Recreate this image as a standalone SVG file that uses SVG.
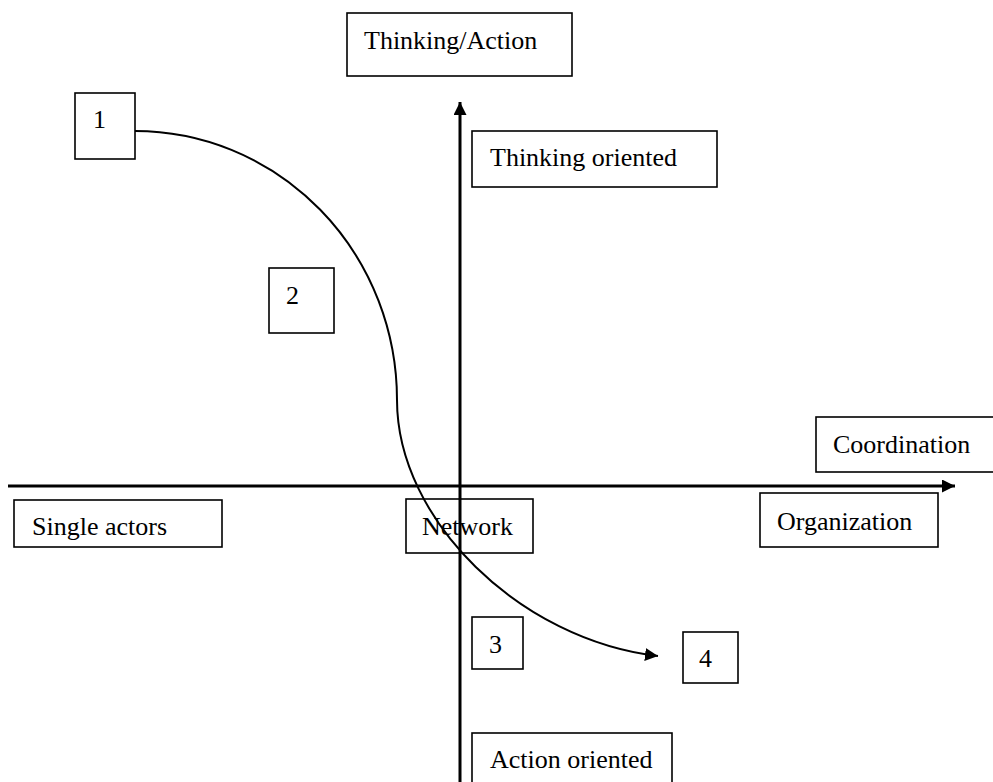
<svg xmlns="http://www.w3.org/2000/svg" width="993" height="782" viewBox="0 0 993 782">
<style>
.box{fill:#fff;stroke:#000;stroke-width:1.6}
.t{font-family:"Liberation Serif","Times New Roman",serif;font-size:26px;fill:#000}
.axis{stroke:#000;stroke-width:3;fill:none}
.curve{stroke:#000;stroke-width:2;fill:none}
</style>
<defs>
<marker id="ah" markerWidth="14" markerHeight="14" refX="13" refY="6.5" orient="auto" markerUnits="userSpaceOnUse">
<path d="M0,0 L13,6.5 L0,13 Z" fill="#000"/>
</marker>
</defs>
<rect width="993" height="782" fill="#fff"/>
<g id="connectors">
<line class="axis" x1="460" y1="782" x2="460" y2="102" marker-end="url(#ah)"/>
<line class="axis" x1="8" y1="486" x2="955" y2="486" marker-end="url(#ah)"/>
<path class="curve" d="M135,131 A262,269 0 0 1 397,400 C397,520 520,640 658,656" marker-end="url(#ah)"/>
</g>
<g id="thinking-action"><rect class="box" x="347" y="13" width="225" height="63"/><text class="t" x="364" y="49">Thinking/Action</text></g>
<g id="thinking-oriented"><rect class="box" x="472" y="131" width="245" height="56"/><text class="t" x="490" y="166">Thinking oriented</text></g>
<g id="n1"><rect class="box" x="75" y="93" width="60" height="66"/><text class="t" x="93" y="128">1</text></g>
<g id="n2"><rect class="box" x="269" y="268" width="65" height="65"/><text class="t" x="286" y="304">2</text></g>
<g id="coordination"><rect class="box" x="816" y="417" width="190" height="55"/><text class="t" x="833" y="453">Coordination</text></g>
<g id="single-actors"><rect class="box" x="14" y="500" width="208" height="47"/><text class="t" x="32" y="535">Single actors</text></g>
<g id="network"><rect class="box" x="406" y="499" width="127" height="54" fill-opacity="0" style="fill:none"/><text class="t" x="422" y="535">Network</text></g>
<g id="organization"><rect class="box" x="760" y="493" width="178" height="54"/><text class="t" x="777" y="530">Organization</text></g>
<g id="n3"><rect class="box" x="472" y="617" width="51" height="52"/><text class="t" x="489" y="653">3</text></g>
<g id="n4"><rect class="box" x="683" y="632" width="55" height="51"/><text class="t" x="699" y="667">4</text></g>
<g id="action-oriented"><rect class="box" x="472" y="733" width="200" height="60"/><text class="t" x="490" y="768">Action oriented</text></g>
</svg>
